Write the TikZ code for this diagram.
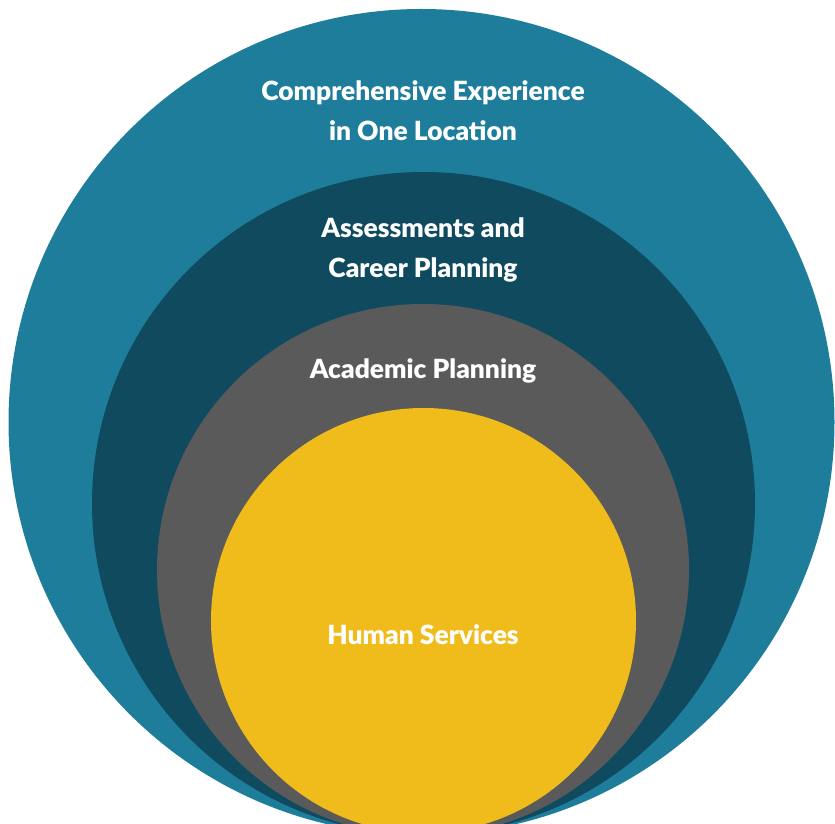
\documentclass[tikz,border=0pt]{standalone}
\usepackage{fontspec}
\setmainfont{Lato}[UprightFont=* Bold]
\definecolor{outerteal}{HTML}{1D7D9B}
\definecolor{darkteal}{HTML}{0F4A5F}
\definecolor{midgray}{HTML}{5A5A5A}
\definecolor{gold}{HTML}{F0BC1C}
\begin{document}
\begin{tikzpicture}[x=1pt,y=1pt,
  lbl/.style={text=white,font=\fontsize{26.4}{40}\selectfont\bfseries,align=center,inner sep=0pt}]
\useasboundingbox (0,0) rectangle (835,824);
\clip (0,0) rectangle (835,824);
\fill[outerteal] (421.5,402) circle (413);
\fill[darkteal] (423.5,320.5) circle (331.5);
\fill[midgray] (423,254) circle (266);
\fill[gold] (423.5,203.5) circle (212.5);
\node[lbl] (c1) at (423,713) {Comprehensive Experience\\in One Location};
\node[lbl] (c2) at (423,574) {Assessments and\\Career Planning};
\node[lbl] (c3) at (423,453) {Academic Planning};
\node[lbl] (c4) at (423,189) {Human Services};
\end{tikzpicture}
\end{document}
